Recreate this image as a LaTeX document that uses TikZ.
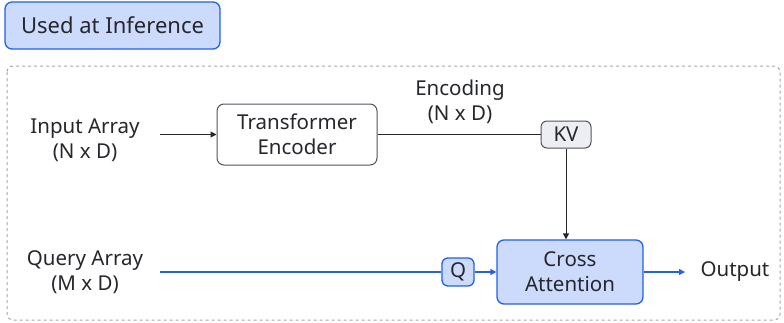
\documentclass[tikz,border=0pt]{standalone}
\usepackage{fontspec}
\setmainfont{Noto Sans}
\usetikzlibrary{arrows.meta}
\definecolor{bblue}{HTML}{2160F0}
\definecolor{lblue}{HTML}{CCDAFC}
\definecolor{gborder}{HTML}{50545E}
\definecolor{lgray}{HTML}{EDEEF3}
\definecolor{txt}{HTML}{25272C}
\tikzset{
  x=1pt,y=-1pt,
  every node/.style={font=\fontsize{20.5}{25}\selectfont, text=txt, align=center, inner sep=0pt},
  bluebox/.style={draw=bblue, fill=lblue, line width=1.3pt, rounded corners=7pt},
  graybox/.style={draw=gborder, fill=white, line width=1pt, rounded corners=7pt},
  tagbox/.style={draw=gborder, fill=lgray, line width=1pt, rounded corners=6pt},
  qbox/.style={draw=bblue, fill=lblue, line width=1.3pt, rounded corners=6pt},
  darrow/.style={draw=txt, line width=1pt, -{Triangle[length=6pt,width=6pt]}},
  barrow/.style={draw=bblue, line width=1.3pt, -{Triangle[length=6pt,width=6pt]}},
}
\begin{document}
\begin{tikzpicture}
\useasboundingbox (0,0) rectangle (784,322);
% header
\node[bluebox, minimum width=215pt, minimum height=47pt, font=\fontsize{22}{26}\selectfont] (hdr) at (112.5,25.5) {Used at Inference};
% container
\draw[gray!70, line width=1pt, dash pattern=on 3pt off 3pt, rounded corners=6pt] (7,66) rectangle (780,320);
% nodes
\node (inp) at (85,140) {Input Array\\(N x D)};
\node[graybox, minimum width=160pt, minimum height=61pt] (enc) at (297,134.5) {Transformer\\Encoder};
\node[tagbox, minimum width=50pt, minimum height=27pt] (kv) at (566,134.5) {KV};
\node (encl) at (460,102) {Encoding\\(N x D)};
\node (qry) at (85,272) {Query Array\\(M x D)};
\node[qbox, minimum width=32pt, minimum height=28pt] (q) at (458,272) {Q};
\node[bluebox, minimum width=146pt, minimum height=64pt] (ca) at (570,272) {Cross\\Attention};
\node (out) at (735,272) {Output};
\coordinate (inpe) at (160,134.5);
\coordinate (qrye) at (160,272);
\coordinate (oute) at (685,272);
% connectors
\draw[darrow] (inpe) -- (enc.west);
\draw[draw=txt, line width=1pt] (enc.east) -- (kv.west);
\draw[darrow] (kv.south) -- (ca.north -| kv.south);
\draw[draw=bblue, line width=1.3pt] (qrye) -- (q.west);
\draw[barrow] (q.east) -- (ca.west);
\draw[barrow] (ca.east) -- (oute);
\end{tikzpicture}
\end{document}
